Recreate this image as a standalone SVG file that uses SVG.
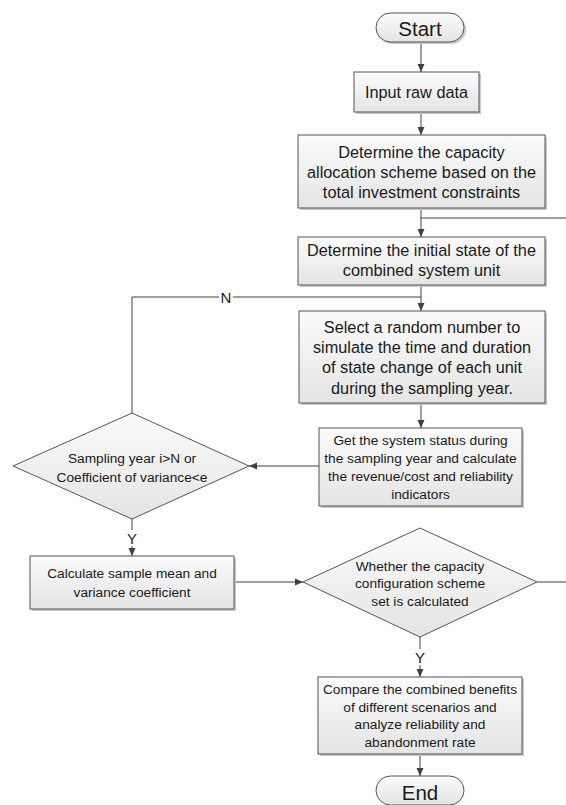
<svg xmlns="http://www.w3.org/2000/svg" width="566" height="805" viewBox="0 0 566 805">
<style>
.shape{fill:url(#g);stroke:#555;stroke-width:1}
.sh{fill:#c8c8c8}
.t{font-family:"Liberation Sans",Arial,sans-serif;fill:#1a1a1a;text-anchor:middle;dominant-baseline:central}
.big{font-size:20.5px}
.m{font-size:16.3px}
.s{font-size:13.7px}
.c{fill:none;stroke:#404040;stroke-width:1}
.lbl{font-family:"Liberation Sans",Arial,sans-serif;fill:#1a1a1a;text-anchor:middle;dominant-baseline:central;font-size:15px}
</style>
<defs>
<linearGradient id="g" x1="0" y1="0" x2="0" y2="1">
<stop offset="0" stop-color="#fbfbfb"/>
<stop offset="1" stop-color="#e4e4e4"/>
</linearGradient>
<marker id="a" viewBox="0 0 8 8" refX="8" refY="4" markerWidth="8" markerHeight="8" markerUnits="userSpaceOnUse" orient="auto">
<path d="M0,0.5 L8,4 L0,7.5 Z" fill="#404040"/>
</marker>
</defs>
<rect width="566" height="805" fill="#fff"/>
<g id="connectors">
<line class="c" x1="421" y1="42" x2="421" y2="72" marker-end="url(#a)"/>
<line class="c" x1="421" y1="112" x2="421" y2="135" marker-end="url(#a)"/>
<line class="c" x1="421" y1="208" x2="421" y2="237" marker-end="url(#a)"/>
<line class="c" x1="421" y1="218" x2="566" y2="218"/>
<line class="c" x1="421" y1="285" x2="421" y2="311" marker-end="url(#a)"/>
<polyline class="c" points="132,413 132,297 421,297"/>
<rect x="219" y="289" width="14" height="16" fill="#fff"/>
<text class="lbl" x="226" y="297">N</text>
<line class="c" x1="421" y1="403" x2="421" y2="428" marker-end="url(#a)"/>
<line class="c" x1="319" y1="466" x2="249" y2="466" marker-end="url(#a)"/>
<line class="c" x1="132" y1="519" x2="132" y2="556" marker-end="url(#a)"/>
<rect x="125" y="530" width="14" height="16" fill="#fff"/>
<text class="lbl" x="132" y="538">Y</text>
<line class="c" x1="234" y1="582" x2="303" y2="582" marker-end="url(#a)"/>
<line class="c" x1="537" y1="582" x2="566" y2="582"/>
<line class="c" x1="420" y1="637" x2="420" y2="677" marker-end="url(#a)"/>
<rect x="413" y="649" width="14" height="16" fill="#fff"/>
<text class="lbl" x="420" y="657">Y</text>
<line class="c" x1="420" y1="754" x2="420" y2="776" marker-end="url(#a)"/>
</g>
<g id="start">
<rect class="sh" x="378" y="15" width="88" height="29" rx="14.5"/>
<rect class="shape" x="376" y="13" width="88" height="29" rx="14.5"/>
<text class="t big" x="420" y="28">Start</text>
</g>
<g id="input">
<rect class="sh" x="356" y="74" width="125" height="40"/>
<rect class="shape" x="354" y="72" width="125" height="40"/>
<text class="t m" x="416.5" y="92">Input raw data</text>
</g>
<g id="capacity">
<rect class="sh" x="300" y="137" width="247" height="73"/>
<rect class="shape" x="298" y="135" width="247" height="73"/>
<text class="t m" x="421.5" y="152">Determine the capacity</text>
<text class="t m" x="421.5" y="172">allocation scheme based on the</text>
<text class="t m" x="421.5" y="192">total investment constraints</text>
</g>
<g id="initial">
<rect class="sh" x="300" y="239" width="247" height="48"/>
<rect class="shape" x="298" y="237" width="247" height="48"/>
<text class="t m" x="421.5" y="250">Determine the initial state of the</text>
<text class="t m" x="421.5" y="270">combined system unit</text>
</g>
<g id="random">
<rect class="sh" x="301" y="313" width="246" height="92"/>
<rect class="shape" x="299" y="311" width="246" height="92"/>
<text class="t m" x="422" y="327">Select a random number to</text>
<text class="t m" x="422" y="347">simulate the time and duration</text>
<text class="t m" x="422" y="367">of state change of each unit</text>
<text class="t m" x="422" y="388">during the sampling year.</text>
</g>
<g id="status">
<rect class="sh" x="321" y="430" width="203" height="78"/>
<rect class="shape" x="319" y="428" width="203" height="78"/>
<text class="t s" x="420.5" y="440">Get the system status during</text>
<text class="t s" x="420.5" y="458">the sampling year and calculate</text>
<text class="t s" x="420.5" y="476">the revenue/cost and reliability</text>
<text class="t s" x="420.5" y="494">indicators</text>
</g>
<g id="sampling">
<polygon class="shape" points="132,413 249,466 132,519 13,466"/>
<text class="t s" x="132" y="458">Sampling year i&gt;N or</text>
<text class="t s" x="132" y="477">Coefficient of variance&lt;e</text>
</g>
<g id="mean">
<rect class="sh" x="32" y="558" width="204" height="53"/>
<rect class="shape" x="30" y="556" width="204" height="53"/>
<text class="t s" x="132" y="573">Calculate sample mean and</text>
<text class="t s" x="132" y="592">variance coefficient</text>
</g>
<g id="calculated">
<polygon class="shape" points="420,528 537,582 420,637 303,582"/>
<text class="t s" x="420" y="566">Whether the capacity</text>
<text class="t s" x="420" y="583">configuration scheme</text>
<text class="t s" x="420" y="601">set is calculated</text>
</g>
<g id="compare">
<rect class="sh" x="320" y="679" width="204" height="77"/>
<rect class="shape" x="318" y="677" width="204" height="77"/>
<text class="t s" x="420" y="689">Compare the combined benefits</text>
<text class="t s" x="420" y="707">of different scenarios and</text>
<text class="t s" x="420" y="724">analyze reliability and</text>
<text class="t s" x="420" y="742">abandonment rate</text>
</g>
<g id="end">
<rect class="shape" x="376" y="776" width="88" height="29" rx="14.5"/>
<text class="t big" x="420" y="792">End</text>
</g>
</svg>
